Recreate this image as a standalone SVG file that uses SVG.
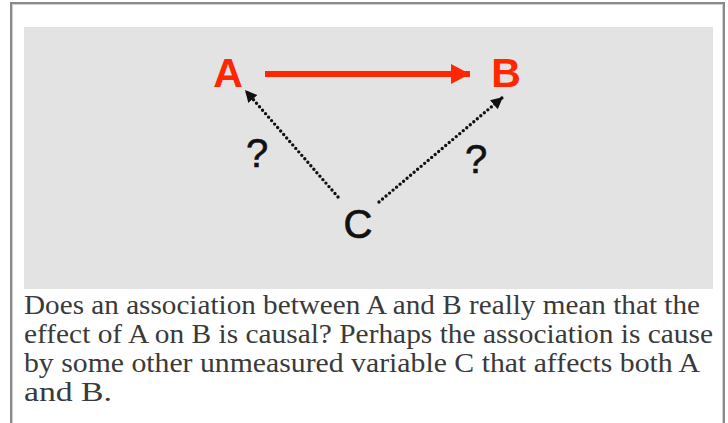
<svg xmlns="http://www.w3.org/2000/svg" width="728" height="423" viewBox="0 0 728 423">
  <defs>
    <style>
      .lbl { font-family: "Liberation Sans", Arial, sans-serif; }
      .red { fill: #ff2600; font-weight: bold; font-size: 41px; }
      .blk { fill: #111; font-size: 40px; stroke: #111; stroke-width: 0.7; }
      .q { fill: #111; font-size: 40px; stroke: #111; stroke-width: 0.6; }
      .dot { fill: none; stroke: #111; stroke-width: 3.4; stroke-dasharray: 0 4.6; stroke-linecap: round; }
      .body { font-family: "Liberation Serif", "Times New Roman", serif; font-size: 28px; fill: #3a3a3a; }
    </style>
    <marker id="dh" markerUnits="userSpaceOnUse" markerWidth="14" markerHeight="14" refX="12" refY="6" orient="auto">
      <path d="M0,0 L12,6 L0,12 Z" fill="#111"/>
    </marker>
    <marker id="rh" markerUnits="userSpaceOnUse" markerWidth="22" markerHeight="22" refX="19" refY="10" orient="auto">
      <path d="M0,0 L19,10 L0,20 Z" fill="#ff2600"/>
    </marker>
  </defs>
  <rect x="0" y="0" width="728" height="423" fill="#ffffff"/>
  <rect x="11" y="3" width="713" height="430" fill="#ffffff" stroke="#8a8a8a" stroke-width="2"/>
  <rect x="12.5" y="4.5" width="710" height="430" fill="none" stroke="#d0d0d0" stroke-width="1"/>
  <rect x="24" y="27" width="689" height="262" fill="#e3e3e3"/>

  <g id="connectors">
    <line x1="265" y1="74" x2="470" y2="74" stroke="#ff2600" stroke-width="6" marker-end="url(#rh)"/>
    <line class="dot" x1="338" y1="197" x2="245" y2="90" marker-end="url(#dh)"/>
    <line class="dot" x1="379" y1="202" x2="503" y2="97" marker-end="url(#dh)"/>
    <text class="lbl q" x="257" y="167" text-anchor="middle">?</text>
    <text class="lbl q" x="476" y="173" text-anchor="middle">?</text>
  </g>
  <g id="node-A"><text class="lbl red" x="228" y="87" text-anchor="middle">A</text></g>
  <g id="node-B"><text class="lbl red" x="506" y="87" text-anchor="middle">B</text></g>
  <g id="node-C"><text class="lbl blk" x="358" y="238" text-anchor="middle">C</text></g>

  <g id="caption">
    <text class="body" x="24" y="314" textLength="676" lengthAdjust="spacingAndGlyphs">Does an association between A and B really mean that the</text>
    <text class="body" x="24" y="343" textLength="689" lengthAdjust="spacingAndGlyphs">effect of A on B is causal? Perhaps the association is cause</text>
    <text class="body" x="24" y="372" textLength="676" lengthAdjust="spacingAndGlyphs">by some other unmeasured variable C that affects both A</text>
    <text class="body" x="24" y="401" textLength="88" lengthAdjust="spacingAndGlyphs">and B.</text>
  </g>
</svg>
